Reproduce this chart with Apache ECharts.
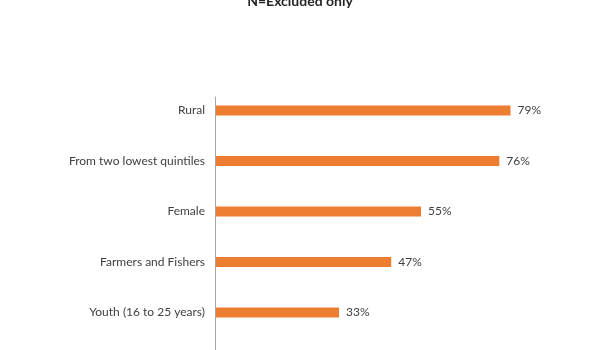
<!DOCTYPE html>
<html>
<head>
<meta charset="utf-8">
<script src="https://cdn.jsdelivr.net/npm/echarts@6/dist/echarts.min.js"></script>
<style>
  html, body { margin: 0; padding: 0; background: #ffffff; }
  #chart { width: 600px; height: 350px; }
</style>
</head>
<body>
<div id="chart"></div>
<script>
// Share of excluded people in each group (percent)
const categories = ['Rural', 'From two lowest quintiles', 'Female', 'Farmers and Fishers', 'Youth (16 to 25 years)'];
const shares = [79, 76, 55, 47, 33];
const titleText = 'N=Excluded only';

const FONT = 'Lato, "Liberation Sans", sans-serif';
const TEXT = '#404040';

const chart = echarts.init(document.getElementById('chart'), null, { renderer: 'canvas' });

chart.setOption({
  animation: false,
  backgroundColor: '#ffffff',
  title: {
    text: titleText,
    left: 'center',
    top: -11,
    textStyle: { fontFamily: FONT, fontSize: 14, fontWeight: 'bold', color: '#262626' }
  },
  grid: [
    // bars
    { left: 216, right: 11.2, top: 85.25, bottom: 12.25, containLabel: false },
    // full-height vertical axis line
    { left: 215.5, width: 1, top: 97, bottom: 0, containLabel: false }
  ],
  xAxis: [
    { type: 'value', gridIndex: 0, min: 0, max: 100, show: false },
    { type: 'value', gridIndex: 1, show: false }
  ],
  yAxis: [
    {
      type: 'category',
      gridIndex: 0,
      data: categories,
      inverse: true,
      axisLine: { show: false },
      axisTick: { show: false },
      axisLabel: { margin: 11, fontFamily: FONT, fontSize: 12, color: TEXT }
    },
    {
      type: 'value',
      gridIndex: 1,
      axisLine: { show: true, lineStyle: { color: '#a6a6a6', width: 1 } },
      axisTick: { show: false },
      axisLabel: { show: false },
      splitLine: { show: false }
    }
  ],
  series: [
    {
      type: 'bar',
      xAxisIndex: 0,
      yAxisIndex: 0,
      data: shares,
      barWidth: 10,
      itemStyle: { color: '#ed7d31' },
      label: {
        show: true,
        position: 'right',
        distance: 7,
        formatter: p => p.value + '%',
        fontFamily: FONT,
        fontSize: 12,
        color: TEXT
      }
    }
  ]
});
</script>
</body>
</html>
